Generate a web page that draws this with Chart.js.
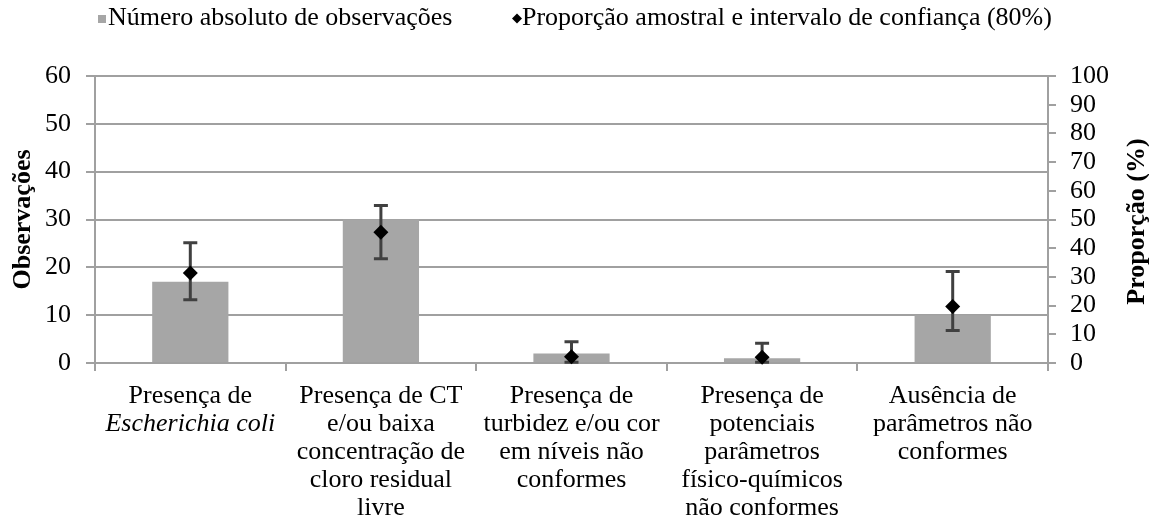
<!DOCTYPE html>
<html><head><meta charset="utf-8">
<script src="https://cdn.jsdelivr.net/npm/chart.js@4.4.1/dist/chart.umd.min.js"></script>
<style>html,body{margin:0;padding:0;background:#fff;}canvas{display:block}</style>
</head><body>
<canvas id="c" width="1149" height="526"></canvas>
<script>
// ---- data ----
const categories = [
  ["Presença de", "Escherichia coli"],
  ["Presença de CT", "e/ou baixa", "concentração de", "cloro residual", "livre"],
  ["Presença de", "turbidez e/ou cor", "em níveis não", "conformes"],
  ["Presença de", "potenciais", "parâmetros", "físico-químicos", "não conformes"],
  ["Ausência de", "parâmetros não", "conformes"]
];
const observations = [17, 30, 2, 1, 10];
const proportions = [31.4, 45.6, 2.2, 2.0, 19.7];
const ciLower = [22.0, 36.3, 0.3, 0.3, 11.3];
const ciUpper = [41.9, 54.9, 7.4, 6.9, 31.9];
const seriesNames = ["Número absoluto de observações", "Proporção amostral e intervalo de confiança (80%)"];
const axisTitles = ["Observações", "Proporção (%)"];
const italicTerms = ["Escherichia coli"];

// ---- styles ----
const FONT = '"Liberation Serif", "Times New Roman", serif';
const FS = 26;
const GRID = '#a0a0a0';
const BAR = '#a6a6a6';

const errorBars = {
  id: 'errorBars',
  beforeDatasetDraw(chart, args) {
    if (args.index !== 1) return;
    const ctx = chart.ctx, x = chart.scales.x, y1 = chart.scales.y1;
    ctx.save();
    ctx.strokeStyle = '#404040';
    ctx.lineWidth = 3;
    ciLower.forEach((lo, i) => {
      const px = x.getPixelForValue(i);
      const top = y1.getPixelForValue(ciUpper[i]);
      const bot = y1.getPixelForValue(lo);
      ctx.beginPath();
      ctx.moveTo(px, top); ctx.lineTo(px, bot);
      ctx.moveTo(px - 7, top); ctx.lineTo(px + 7, top);
      ctx.moveTo(px - 7, bot); ctx.lineTo(px + 7, bot);
      ctx.stroke();
    });
    ctx.restore();
  }
};

const texts = {
  id: 'texts',
  afterDraw(chart) {
    const ctx = chart.ctx, x = chart.scales.x, area = chart.chartArea;
    ctx.save();
    ctx.fillStyle = '#000';
    ctx.textBaseline = 'alphabetic';
    // x labels
    ctx.textAlign = 'center';
    categories.forEach((lines, i) => {
      const px = x.getPixelForValue(i);
      lines.forEach((ln, j) => {
        const it = italicTerms.includes(ln);
        ctx.font = (it ? 'italic ' : '') + FS + 'px ' + FONT;
        ctx.fillText(ln, px, x.top + 40 + j * 28);
      });
    });
    // legend
    ctx.font = FS + 'px ' + FONT;
    ctx.textAlign = 'left';
    ctx.fillStyle = BAR;
    ctx.fillRect(98, 15, 8, 8);
    ctx.fillStyle = '#000';
    ctx.fillText(seriesNames[0], 108, 25);
    ctx.beginPath();
    ctx.moveTo(517, 13.5); ctx.lineTo(522, 18.5); ctx.lineTo(517, 23.5); ctx.lineTo(512, 18.5);
    ctx.closePath(); ctx.fill();
    ctx.fillText(seriesNames[1], 522, 25);
    // axis titles
    ctx.font = 'bold ' + FS + 'px ' + FONT;
    ctx.textAlign = 'center';
    ctx.textBaseline = 'middle';
    const cy = (area.top + area.bottom) / 2;
    ctx.save(); ctx.translate(23, cy); ctx.rotate(-Math.PI / 2); ctx.fillText(axisTitles[0], 0, 0); ctx.restore();
    ctx.save(); ctx.translate(1137, cy + 2); ctx.rotate(-Math.PI / 2); ctx.fillText(axisTitles[1], 0, 0); ctx.restore();
    ctx.restore();
  }
};

new Chart(document.getElementById('c'), {
  data: {
    labels: categories,
    datasets: [
      { type: 'bar', label: seriesNames[0], data: observations, backgroundColor: BAR, yAxisID: 'y',
        barPercentage: 0.4, categoryPercentage: 1.0, order: 1 },
      { type: 'line', label: seriesNames[1], data: proportions, yAxisID: 'y1', showLine: false,
        pointStyle: 'rectRot', pointRadius: 7.5, pointBackgroundColor: '#000', pointBorderWidth: 0,
        pointBorderColor: '#000', clip: false, order: 0 }
    ]
  },
  options: {
    responsive: false,
    devicePixelRatio: 1,
    animation: false,
    layout: { padding: { top: 76, left: 0, right: 0, bottom: 0 } },
    plugins: { legend: { display: false }, tooltip: { enabled: false } },
    scales: {
      x: {
        offset: true,
        grid: { offset: true, drawOnChartArea: false, drawTicks: true, tickLength: 8, color: GRID, lineWidth: 2 },
        border: { color: GRID, width: 2 },
        ticks: { display: false },
        afterFit(s) { s.height = 163; }
      },
      y: {
        position: 'left', min: 0, max: 60,
        ticks: { stepSize: 10, color: '#000', padding: 15, font: { family: FONT, size: FS, lineHeight: 1 } },
        grid: { color: GRID, lineWidth: 2, tickLength: 9 },
        border: { color: GRID, width: 2 },
        afterFit(s) { s.width = 95; }
      },
      y1: {
        position: 'right', min: 0, max: 100,
        ticks: { stepSize: 10, autoSkip: false, color: '#000', padding: 14, font: { family: FONT, size: FS, lineHeight: 1 } },
        grid: { drawOnChartArea: false, color: GRID, lineWidth: 2, tickLength: 8 },
        border: { color: GRID, width: 2 },
        afterFit(s) { s.width = 101; }
      }
    }
  },
  plugins: [errorBars, texts]
});
</script>
</body></html>
